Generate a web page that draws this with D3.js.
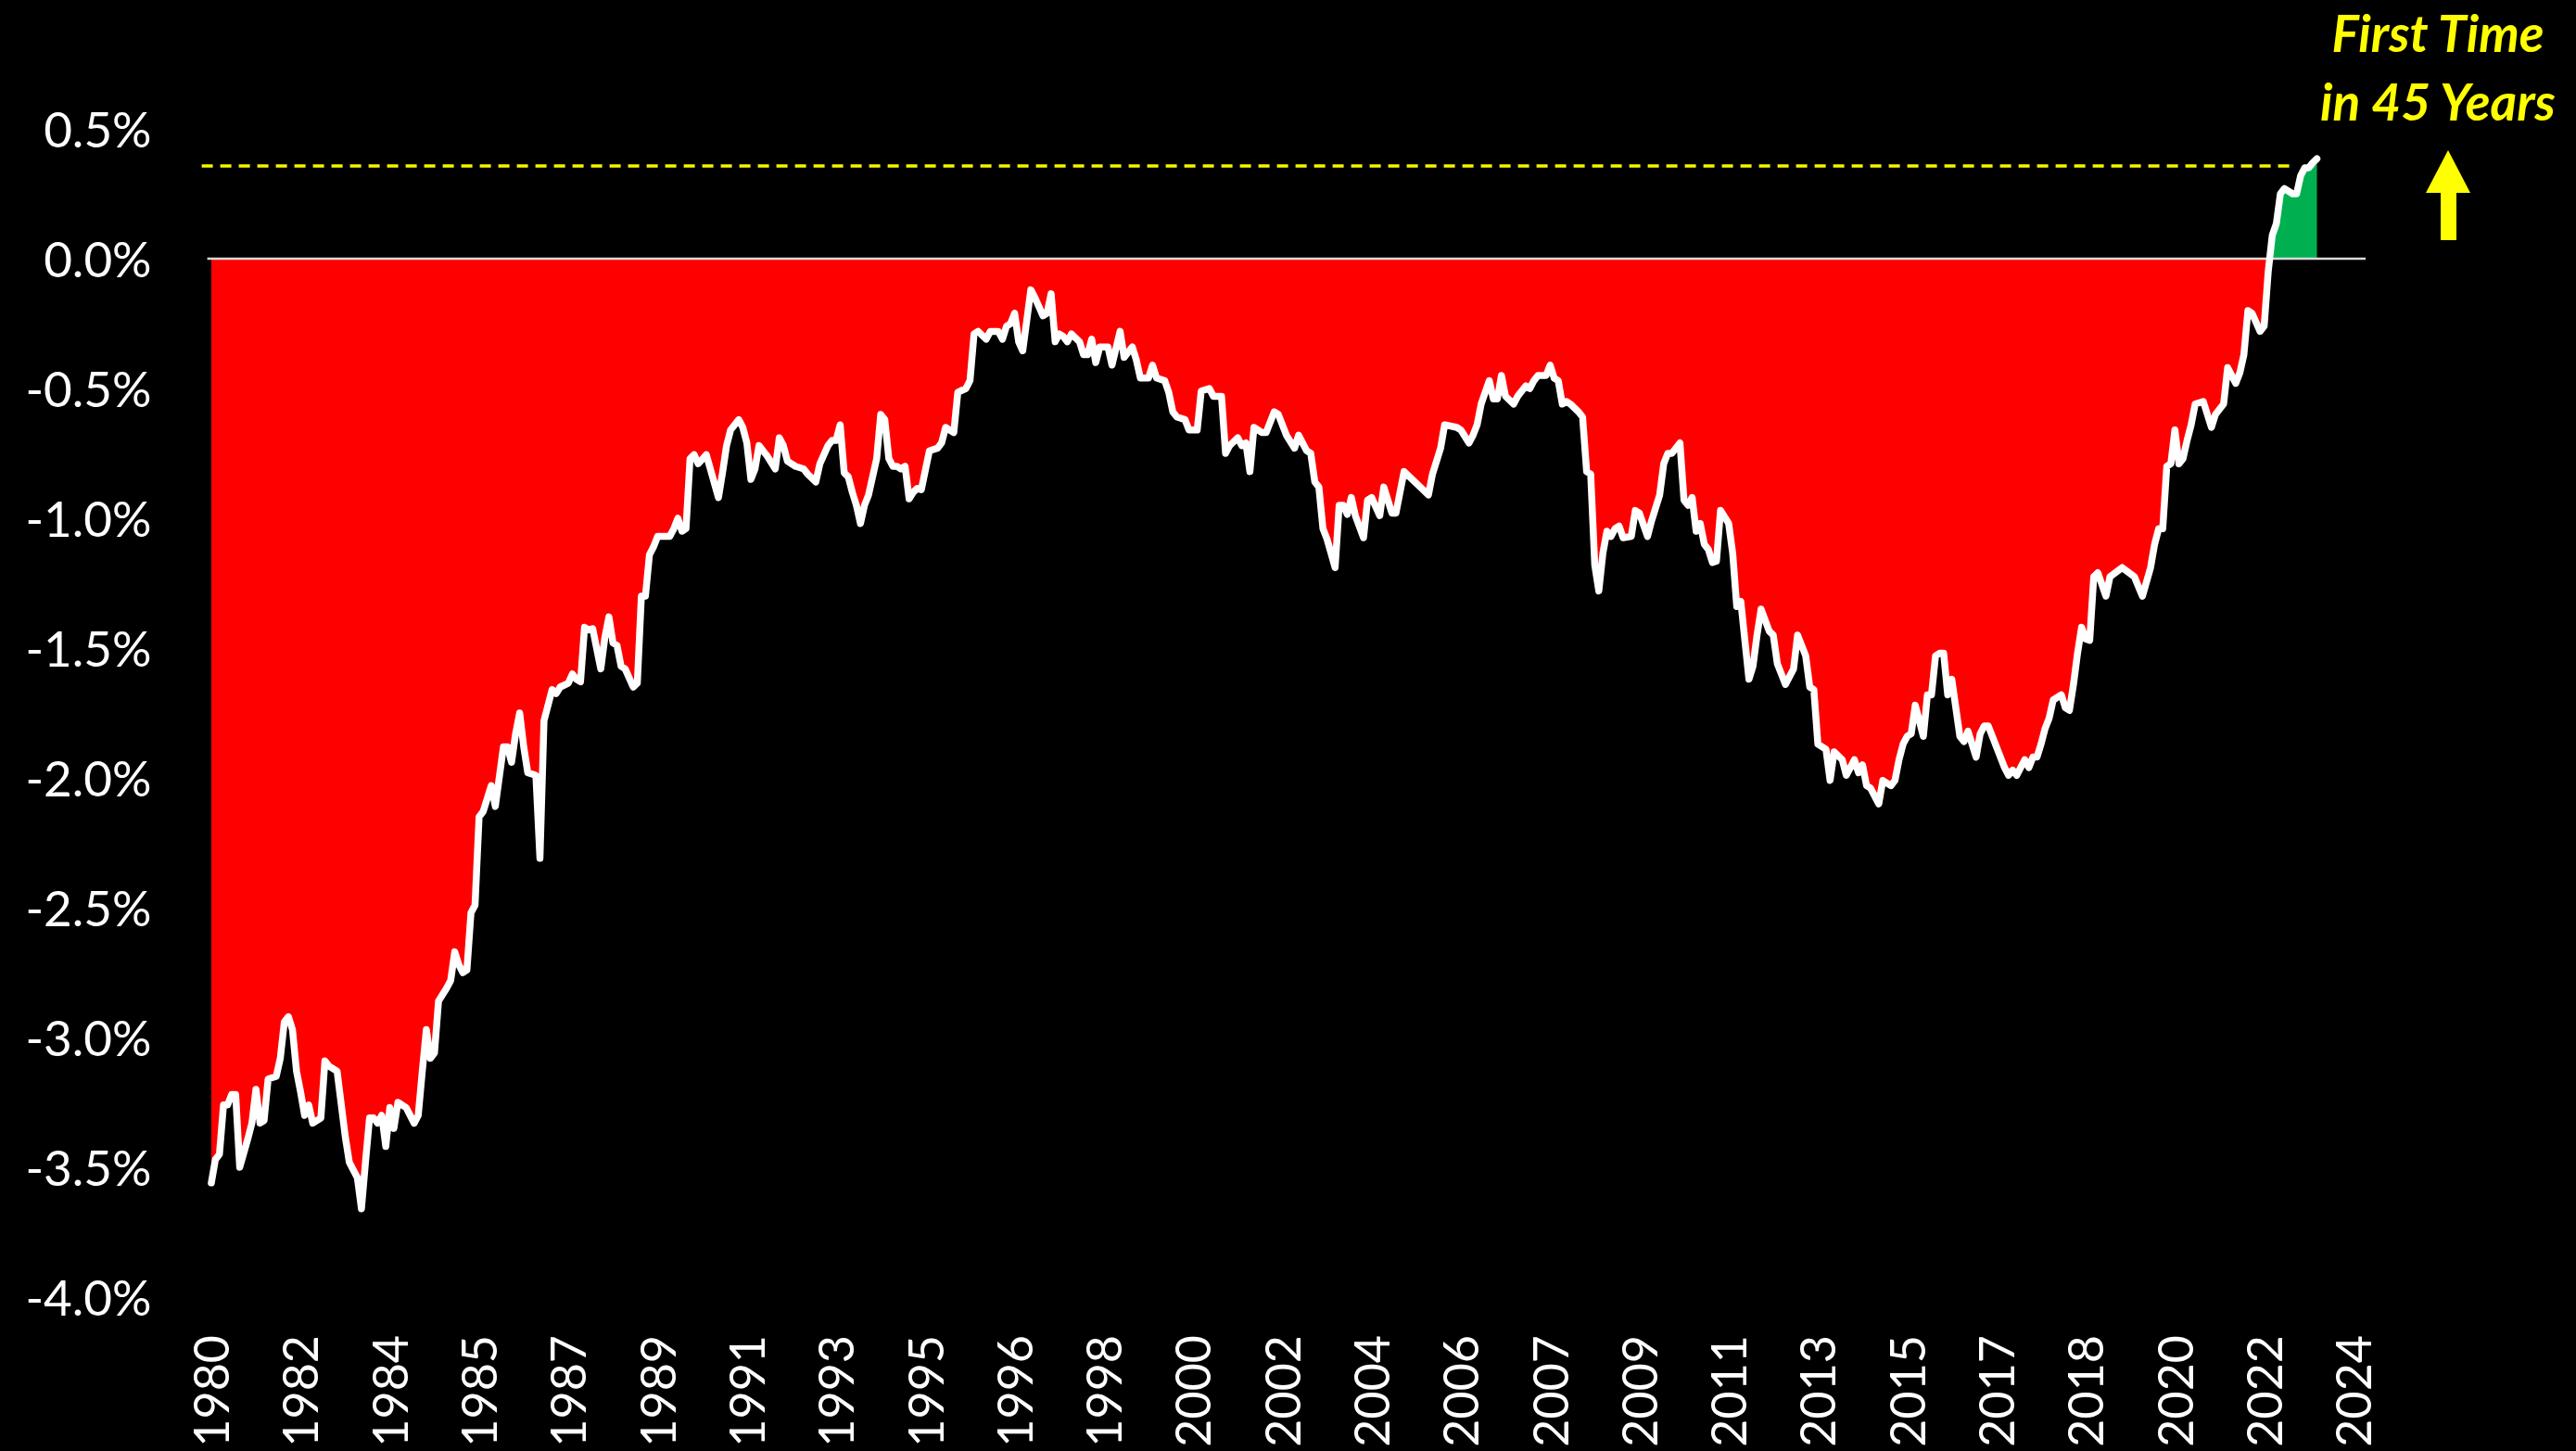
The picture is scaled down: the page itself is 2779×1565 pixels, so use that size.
<!DOCTYPE html>
<meta charset="utf-8">
<style>
	body { margin: 0; background: #000; }
	svg { display: block; background: #000; }
	.tick text { font-family: Lato, "Open Sans", sans-serif; fill: #fff; }
</style>

<div class="chart"></div>

<script src="https://d3js.org/d3.v7.min.js"></script>

<script>
	// months after the first observation (May 1980) and the value in % at that month
	var monthOffsets = [
		0, 1, 2, 3, 4, 5, 6, 7, 9, 10, 11, 12, 13, 14, 16, 17, 18, 19, 20, 21,
		22, 23, 24, 25, 27, 28, 29, 31, 33, 34, 36, 37, 38, 39, 40, 41, 42, 43, 44, 45,
		46, 48, 50, 51, 52, 53, 54, 55, 56, 58, 59, 60, 61, 62, 63, 64, 65, 66, 67, 68,
		69, 70, 72, 73, 74, 75, 76, 77, 78, 80, 81, 82, 84, 85, 86, 88, 89, 90, 91, 92,
		93, 94, 96, 97, 98, 99, 100, 101, 102, 104, 105, 106, 107, 108, 109, 110, 112, 113, 114, 115,
		116, 117, 118, 119, 120, 122, 123, 125, 126, 127, 128, 130, 131, 132, 133, 134, 135, 136, 137, 139,
		140, 141, 142, 144, 146, 147, 149, 150, 152, 153, 154, 155, 156, 157, 158, 159, 160, 161, 162, 164,
		165, 166, 167, 168, 169, 170, 171, 172, 173, 174, 175, 177, 179, 180, 181, 182, 183, 184, 186, 187,
		188, 189, 191, 192, 194, 195, 196, 197, 198, 199, 200, 202, 203, 205, 206, 207, 208, 209, 210, 211,
		212, 214, 215, 216, 217, 218, 219, 221, 222, 224, 225, 227, 228, 229, 231, 232, 233, 235, 236, 237,
		238, 240, 241, 243, 244, 246, 247, 249, 250, 251, 253, 254, 255, 256, 257, 259, 260, 262, 263, 265,
		267, 268, 270, 271, 272, 273, 274, 275, 276, 277, 278, 279, 280, 281, 282, 284, 285, 286, 288, 289,
		291, 292, 294, 296, 298, 300, 301, 303, 304, 307, 308, 310, 311, 312, 313, 315, 316, 317, 318, 319,
		321, 322, 324, 325, 326, 327, 329, 330, 331, 332, 333, 334, 335, 337, 338, 339, 340, 341, 342, 343,
		344, 345, 346, 347, 348, 350, 351, 352, 354, 355, 357, 358, 359, 360, 362, 363, 364, 365, 366, 367,
		368, 369, 370, 371, 372, 374, 375, 376, 377, 379, 380, 381, 382, 384, 385, 386, 387, 388, 390, 391,
		393, 394, 395, 396, 398, 399, 400, 402, 403, 405, 406, 407, 408, 409, 411, 412, 414, 415, 416, 417,
		418, 419, 420, 422, 423, 424, 425, 426, 427, 428, 429, 431, 432, 433, 435, 436, 437, 438, 440, 441,
		442, 443, 444, 445, 446, 447, 448, 449, 450, 451, 452, 453, 454, 456, 457, 458, 459, 460, 461, 462,
		463, 464, 465, 467, 468, 471, 474, 476, 478, 479, 480, 481, 482, 483, 484, 485, 486, 487, 488, 489,
		491, 493, 494, 496, 497, 499, 500, 501, 502, 503, 505, 506, 507, 508, 509, 510, 511, 513, 514, 515,
		516, 517, 518, 519
	];

	var values = [
		-3.56, -3.47, -3.45, -3.26, -3.26, -3.22, -3.22, -3.50, -3.39, -3.33, -3.20, -3.33, -3.32, -3.16, -3.15, -3.08, -2.94, -2.92, -2.97, -3.13,
		-3.21, -3.30, -3.26, -3.33, -3.31, -3.09, -3.11, -3.13, -3.38, -3.48, -3.54, -3.66, -3.48, -3.31, -3.31, -3.33, -3.30, -3.42, -3.27, -3.35,
		-3.25, -3.27, -3.33, -3.30, -3.13, -2.97, -3.08, -3.06, -2.86, -2.81, -2.78, -2.67, -2.72, -2.75, -2.74, -2.52, -2.49, -2.15, -2.13, -2.08,
		-2.03, -2.11, -1.88, -1.88, -1.94, -1.83, -1.75, -1.88, -1.98, -1.99, -2.31, -1.78, -1.66, -1.675, -1.65, -1.635, -1.60, -1.62, -1.63, -1.42,
		-1.43, -1.425, -1.58, -1.46, -1.38, -1.48, -1.49, -1.57, -1.58, -1.65, -1.635, -1.30, -1.30, -1.14, -1.11, -1.07, -1.07, -1.07, -1.04, -1.00,
		-1.05, -1.04, -0.77, -0.755, -0.79, -0.755, -0.81, -0.92, -0.825, -0.72, -0.66, -0.62, -0.65, -0.71, -0.85, -0.81, -0.72, -0.74, -0.76, -0.81,
		-0.69, -0.72, -0.78, -0.80, -0.81, -0.83, -0.86, -0.79, -0.72, -0.70, -0.70, -0.64, -0.825, -0.84, -0.90, -0.95, -1.02, -0.95, -0.91, -0.77,
		-0.60, -0.62, -0.77, -0.80, -0.80, -0.81, -0.80, -0.925, -0.90, -0.885, -0.89, -0.74, -0.73, -0.71, -0.65, -0.66, -0.67, -0.515, -0.50, -0.47,
		-0.29, -0.28, -0.31, -0.28, -0.28, -0.31, -0.26, -0.25, -0.21, -0.32, -0.355, -0.12, -0.15, -0.22, -0.21, -0.135, -0.32, -0.29, -0.30, -0.32,
		-0.29, -0.32, -0.37, -0.37, -0.31, -0.40, -0.34, -0.34, -0.41, -0.28, -0.38, -0.34, -0.39, -0.46, -0.46, -0.41, -0.46, -0.47, -0.515, -0.59,
		-0.61, -0.62, -0.66, -0.66, -0.51, -0.50, -0.53, -0.53, -0.75, -0.72, -0.69, -0.72, -0.71, -0.82, -0.65, -0.67, -0.67, -0.59, -0.60, -0.68,
		-0.73, -0.68, -0.74, -0.75, -0.86, -0.88, -1.04, -1.08, -1.135, -1.19, -0.95, -0.95, -0.985, -0.92, -0.99, -1.075, -0.93, -0.92, -0.99, -0.88,
		-0.98, -0.98, -0.82, -0.85, -0.88, -0.91, -0.83, -0.73, -0.64, -0.65, -0.66, -0.71, -0.68, -0.64, -0.56, -0.47, -0.54, -0.54, -0.45, -0.53,
		-0.56, -0.53, -0.49, -0.50, -0.47, -0.45, -0.45, -0.41, -0.46, -0.47, -0.56, -0.55, -0.56, -0.59, -0.61, -0.82, -0.83, -1.18, -1.28, -1.135,
		-1.05, -1.07, -1.04, -1.03, -1.075, -1.07, -0.97, -0.98, -1.07, -1.01, -0.91, -0.79, -0.75, -0.75, -0.71, -0.93, -0.95, -0.92, -1.05, -1.02,
		-1.10, -1.12, -1.17, -1.165, -0.97, -1.02, -1.135, -1.34, -1.32, -1.62, -1.57, -1.45, -1.35, -1.435, -1.45, -1.56, -1.60, -1.64, -1.58, -1.45,
		-1.53, -1.65, -1.66, -1.87, -1.89, -2.01, -1.90, -1.93, -1.99, -1.93, -1.98, -1.95, -2.03, -2.04, -2.10, -2.01, -2.03, -2.01, -1.93, -1.87,
		-1.84, -1.83, -1.72, -1.84, -1.68, -1.68, -1.53, -1.52, -1.52, -1.68, -1.62, -1.84, -1.86, -1.82, -1.92, -1.83, -1.80, -1.80, -1.88, -1.92,
		-1.96, -1.99, -1.97, -1.99, -1.96, -1.93, -1.96, -1.92, -1.92, -1.87, -1.81, -1.77, -1.70, -1.68, -1.73, -1.74, -1.64, -1.52, -1.42, -1.465,
		-1.47, -1.225, -1.21, -1.30, -1.225, -1.19, -1.225, -1.30, -1.19, -1.10, -1.04, -1.04, -0.80, -0.79, -0.66, -0.79, -0.77, -0.70, -0.64, -0.56,
		-0.55, -0.65, -0.60, -0.56, -0.42, -0.48, -0.44, -0.37, -0.20, -0.21, -0.28, -0.26, -0.05, 0.09, 0.135, 0.25, 0.27, 0.25, 0.25, 0.32,
		0.35, 0.35, 0.37, 0.385
	];

	// category labels, one every 22 months
	var yearLabels = ["1980", "1982", "1984", "1985", "1987", "1989", "1991", "1993", "1995", "1996",
		"1998", "2000", "2002", "2004", "2006", "2007", "2009", "2011", "2013", "2015",
		"2017", "2018", "2020", "2022", "2024"];
	var labelStep = 22;

	var yTicks = [0.5, 0, -0.5, -1, -1.5, -2, -2.5, -3, -3.5, -4];

	var previousHigh = 0.357;     // dashed reference level
	var previousHighEnd = 513;    // month where the dashed line stops

	var noteLines = ["First Time", "in 45 Years"];

	var width = 2779,
			height = 1565;

	var data = monthOffsets.map(function(m, i) {
		return { m: m, v: values[i] };
	});

	var x = d3.scaleLinear()
			.domain([-1, 531])
			.range([223.6, 2552]);

	var y = d3.scaleLinear()
			.domain([-4, 0.5])
			.range([1399, 139]);

	var svg = d3.select('.chart')
			.append('svg')
			.attr('width', width)
			.attr('height', height);

	var defs = svg.append('defs');
	defs.append('clipPath').attr('id', 'below')
			.append('rect')
			.attr('x', 0).attr('y', y(0))
			.attr('width', width).attr('height', height - y(0));
	defs.append('clipPath').attr('id', 'above')
			.append('rect')
			.attr('x', 0).attr('y', 0)
			.attr('width', width).attr('height', y(0));

	var area = d3.area()
			.x(function(d) { return x(d.m); })
			.y0(y(0))
			.y1(function(d) { return y(d.v); });

	svg.append('path')
			.datum(data)
			.attr('d', area)
			.attr('fill', '#ff0000')
			.attr('clip-path', 'url(#below)');

	svg.append('path')
			.datum(data)
			.attr('d', area)
			.attr('fill', '#00b050')
			.attr('clip-path', 'url(#above)');

	// dashed line at the previous high
	svg.append('line')
			.attr('x1', x.range()[0] - 6)
			.attr('x2', x(previousHighEnd))
			.attr('y1', y(previousHigh))
			.attr('y2', y(previousHigh))
			.attr('stroke', '#f5f500')
			.attr('stroke-width', 3.5)
			.attr('stroke-dasharray', '12 8');

	// zero line
	svg.append('line')
			.attr('x1', x.range()[0])
			.attr('x2', x.range()[1])
			.attr('y1', y(0))
			.attr('y2', y(0))
			.attr('stroke', '#d9d9d9')
			.attr('stroke-width', 2.5);

	var line = d3.line()
			.x(function(d) { return x(d.m); })
			.y(function(d) { return y(d.v); });

	svg.append('path')
			.datum(data)
			.attr('d', line)
			.attr('fill', 'none')
			.attr('stroke', '#fff')
			.attr('stroke-width', 7.5)
			.attr('stroke-linejoin', 'round')
			.attr('stroke-linecap', 'round');

	// y axis labels
	var yAxis = svg.append('g')
			.attr('transform', 'translate(' + x.range()[0] + ',0)')
			.call(d3.axisLeft(y)
				.tickValues(yTicks)
				.tickSize(0)
				.tickPadding(60)
				.tickFormat(function(d) { return d.toFixed(1) + '%'; }));
	yAxis.select('.domain').remove();
	yAxis.selectAll('text')
			.attr('dy', '0.36em')
			.style('font-size', '53px');

	// x axis labels, rotated
	var xAxis = svg.append('g')
			.attr('transform', 'translate(0,1440)')
			.call(d3.axisBottom(x)
				.tickValues(yearLabels.map(function(d, i) { return i * labelStep; }))
				.tickSize(0)
				.tickFormat(function(d, i) { return yearLabels[i]; }));
	xAxis.select('.domain').remove();
	xAxis.selectAll('text')
			.attr('x', 0)
			.attr('y', 0)
			.attr('dy', '0.36em')
			.attr('transform', 'rotate(-90)')
			.style('text-anchor', 'end')
			.style('font-size', '52px');

	// note in the top right corner
	var note = svg.append('g');
	note.selectAll('text')
			.data(noteLines)
			.enter().append('text')
			.attr('x', 2630)
			.attr('y', function(d, i) { return 56 + i * 74; })
			.attr('text-anchor', 'middle')
			.attr('fill', '#ffff00')
			.style('font-family', 'Lato, "Open Sans", sans-serif')
			.style('font-weight', 'bold')
			.style('font-style', 'italic')
			.style('font-size', '55px')
			.text(function(d) { return d; });

	var ax = 2641, tipY = 162, headY = 208, baseY = 259;
	note.append('polygon')
			.attr('points', [
				[ax, tipY], [ax + 24, headY], [ax + 9, headY], [ax + 9, baseY],
				[ax - 8, baseY], [ax - 8, headY], [ax - 24, headY]
			].join(' '))
			.attr('fill', '#ffff00');
</script>
